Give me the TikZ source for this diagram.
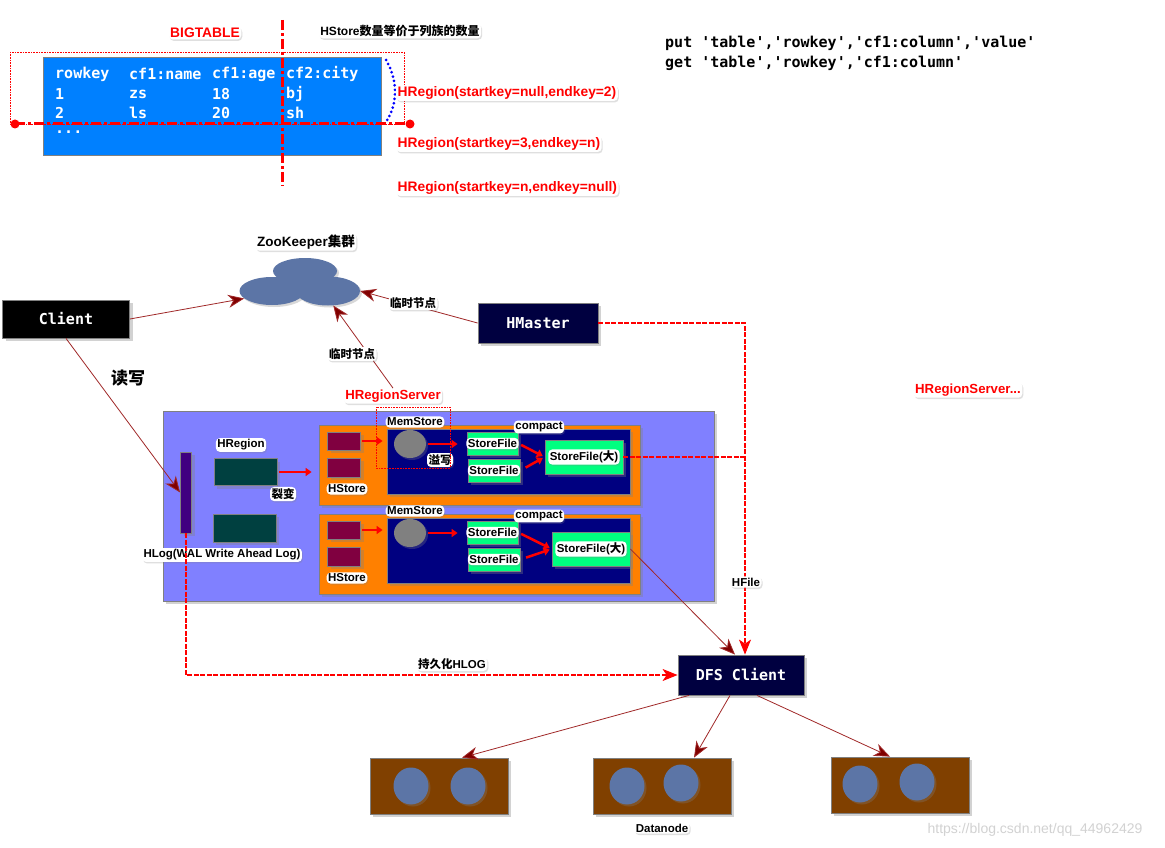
\documentclass[tikz,border=0pt]{standalone}
\usepackage{fontspec}
\setmainfont{Liberation Sans}
\setmonofont{DejaVu Sans Mono}
\newfontfamily\cjk{Noto Sans CJK SC}
\usetikzlibrary{positioning,shapes.geometric,arrows.meta,shadows}

\definecolor{tableblue}{RGB}{0,128,255}
\definecolor{zkblue}{RGB}{92,117,166}
\definecolor{hmnavy}{RGB}{0,0,64}
\definecolor{rsviolet}{RGB}{128,128,255}
\definecolor{hlogpurple}{RGB}{64,0,128}
\definecolor{regionteal}{RGB}{0,64,64}
\definecolor{storeorange}{RGB}{255,128,0}
\definecolor{blockmaroon}{RGB}{128,0,64}
\definecolor{memnavy}{RGB}{0,0,128}
\definecolor{filegreen}{RGB}{0,255,128}
\definecolor{dnbrown}{RGB}{128,64,0}
\definecolor{linkred}{RGB}{160,40,40}
\definecolor{tipred}{RGB}{128,0,0}

\newcommand{\zh}[1]{{\cjk #1}}
\newcommand{\fsz}[1]{\fontsize{#1}{#1}\selectfont}

\tikzset{
  boxed/.style={draw=gray, line width=0.8pt, inner sep=0pt,
    drop shadow={opacity=0.35, shadow xshift=3pt, shadow yshift=-3pt}},
  tag/.style={fill=white, rounded corners=4pt, inner sep=1.5pt, font=\bfseries\fsz{11.5},
    drop shadow={opacity=0.25, shadow xshift=1pt, shadow yshift=-1.5pt}},
  redtag/.style={tag, text=red, font=\bfseries\fsz{13.8}},
  monobox/.style={boxed, text=white, font=\ttfamily\bfseries\fsz{15}},
  cell/.style={anchor=west, inner sep=0pt, text=white, font=\ttfamily\bfseries\fsz{15}},
  blob/.style={ellipse, fill=zkblue, inner sep=0pt,
    drop shadow={opacity=0.3, shadow xshift=2pt, shadow yshift=-2pt}},
  filebox/.style={boxed, fill=filegreen},
  zklink/.style={linkred, line width=0.8pt, -{Stealth[length=16pt, width=13pt, inset=5pt, fill=tipred]}},
  hfile/.style={red, line width=1.2pt, dash pattern=on 5pt off 1.5pt},
  hfilearrow/.style={hfile, -{Stealth[length=15pt, width=12pt, inset=4pt]}},
  redblock/.style={red, line width=2.5pt, -{Triangle[length=6pt, width=8pt]}},
  cutline/.style={red, line width=3pt, dash pattern=on 10pt off 3pt on 3pt off 3pt}
}

\begin{document}
\begin{tikzpicture}[x=1pt, y=-1pt]
  \fill[white] (0,0) rectangle (1165,848);
  \useasboundingbox (0,0) rectangle (1165,848);

  % the big table
  \node[fill=tableblue, draw=gray, line width=0.8pt, minimum width=338pt, minimum height=98pt] (bigtable) at (212,106) {};
  \foreach \y/\ca/\cb/\cc/\cd [count=\r] in {74/rowkey/cf1:name/cf1:age/cf2:city, 94/1/zs/18/bj, 113/2/ls/20/sh}{
    \node[cell] (cell\r a) at (55,\y) {\ca};
    \node[cell] (cell\r b) at (129,\y) {\cb};
    \node[cell] (cell\r c) at (212,\y) {\cc};
    \node[cell] (cell\r d) at (286,\y) {\cd};
  }
  \node[cell] (cell4a) at (55,132) {...};

  % region split and column family cut
  \draw[red, line width=0.6pt, densely dotted] (10,52) rectangle (404,124);
  \coordinate (cutL) at (15,124);
  \coordinate (cutR) at (410,124);
  \coordinate (cutT) at (282,20);
  \coordinate (cutB) at (282,186);
  \draw[cutline] (cutL) -- (cutR);
  \draw[cutline] (cutT) -- (cutB);
  \fill[red] (cutL) circle (4.5pt) (cutR) circle (4.5pt);
  \draw[blue, line width=3pt, dash pattern=on 0pt off 4.5pt, line cap=round]
    (386,60) .. controls (398,80) and (398,104) .. (386,122);

  \node[redtag] (bigtag) at (205,33) {BIGTABLE};
  \node[tag, font=\bfseries\fsz{12}] (hstoretag) at (400,31) {HStore\zh{数量等价于列族的数量}};
  \node[redtag, anchor=west] (reg1) at (396,93) {HRegion(startkey=null,endkey=2)};
  \node[redtag, anchor=west] (reg2) at (396,144) {HRegion(startkey=3,endkey=n)};
  \node[redtag, anchor=west] (reg3) at (396,188) {HRegion(startkey=n,endkey=null)};

  % shell commands
  \node[anchor=west, inner sep=0pt, font=\ttfamily\bfseries\fsz{15}] (putcmd) at (665,43) {put 'table','rowkey','cf1:column','value'};
  \node[anchor=west, inner sep=0pt, font=\ttfamily\bfseries\fsz{15}] (getcmd) at (665,63) {get 'table','rowkey','cf1:column'};

  % zookeeper, client, master
  \node[tag, font=\bfseries\fsz{13.5}] (zktag) at (306,242) {ZooKeeper\zh{集群}};
  \node[blob, minimum width=64pt, minimum height=26pt] (zkt) at (305,271) {};
  \node[blob, minimum width=65pt, minimum height=28pt] (zkl) at (272,291) {};
  \node[blob, minimum width=64pt, minimum height=29pt] (zkr) at (328,291) {};
  \node[monobox, fill=black, minimum width=127pt, minimum height=38pt] (client) at (66,319) {Client};
  \node[monobox, fill=hmnavy, minimum width=120pt, minimum height=40pt] (hmaster) at (538,323) {HMaster};
  \node[font=\bfseries\fsz{17}] (rwtag) at (128,378) {\zh{读写}};

  % region server
  \node[boxed, fill=rsviolet, minimum width=551pt, minimum height=190pt] (hrs) at (438.5,506) {};
  \node[redtag, font=\bfseries\fsz{13.2}] (hrstag) at (393,396) {HRegionServer};
  \node[redtag, font=\bfseries\fsz{13.2}] (hrsmore) at (968,390) {HRegionServer...};
  \node[boxed, fill=hlogpurple, minimum width=11pt, minimum height=81pt] (hlog) at (186,492.5) {};
  \node[tag] (hlogtag) at (222,555) {HLog(WAL Write Ahead Log)};
  \node[tag] (regtag) at (241,445) {HRegion};
  \node[boxed, fill=regionteal, minimum width=63pt, minimum height=27pt] (region1) at (245.5,472) {};
  \node[boxed, fill=regionteal, minimum width=63pt, minimum height=28pt] (region2) at (244.5,528) {};

  \foreach \s/\dy/\bx/\by in {A/0/584/457, B/89/591/460}{
    \begin{scope}[shift={(0,\dy)}]
      \node[boxed, fill=storeorange, minimum width=321pt, minimum height=80pt] (store\s) at (479.5,465) {};
      \node[boxed, fill=blockmaroon, minimum width=33pt, minimum height=18pt] (cf\s a) at (344,441) {};
      \node[boxed, fill=blockmaroon, minimum width=33pt, minimum height=19pt] (cf\s b) at (344,467.5) {};
      \node[tag] (hs\s) at (347,489) {HStore};
      \node[boxed, fill=memnavy, minimum width=243pt, minimum height=65pt] (mem\s) at (508.5,461.5) {};
      \node[tag] (ms\s) at (415,422) {MemStore};
      \node[ellipse, fill=gray, inner sep=0pt, minimum width=32pt, minimum height=28pt,
        drop shadow={opacity=0.3, shadow xshift=2pt, shadow yshift=-2pt}] (disk\s) at (410,444) {};
      \node[filebox, minimum width=51pt, minimum height=23pt] (sf\s a) at (492.5,443.5) {};
      \node[filebox, minimum width=52pt, minimum height=23pt] (sf\s b) at (494,470.5) {};
      \node[filebox, minimum width=78pt, minimum height=34pt] (sf\s c) at (\bx,\by) {};
      \node[tag] at (sf\s a) {StoreFile};
      \node[tag] at (sf\s b) {StoreFile};
      \node[tag] at (sf\s c) {StoreFile(\zh{大})};
      \node[tag] (cp\s) at (539,427) {compact};
      \draw[redblock, shorten <=1pt, shorten >=4pt] (cf\s a.east) -- (cf\s a.east -| mem\s.west);
      \draw[redblock, shorten <=2pt, shorten >=9pt] (disk\s.east) -- (disk\s.east -| sf\s a.west);
      \draw[redblock, shorten <=3pt, shorten >=2pt] (sf\s a.east) -- (sf\s c.west);
      \draw[redblock, shorten <=6pt, shorten >=2pt] (sf\s b.east) -- (sf\s c.west);
    \end{scope}
  }
  \node[tag] (spilltag) at (440,460) {\zh{溢写}};
  \draw[redblock, shorten <=2pt, shorten >=7pt] (region1.east) -- (region1.east -| storeA.west);
  \node[tag] (splittag) at (283,494) {\zh{裂变}};
  \draw[red, line width=0.6pt, densely dotted] (376,407) rectangle (450,468);

  % hdfs side
  \node[monobox, fill=hmnavy, minimum width=126pt, minimum height=40pt] (dfs) at (741,675) {DFS Client};
  \foreach \n/\x/\y/\ax/\ay/\bx/\by in {1/439/786/411/786/468/786, 2/662/786/627/786/681/783, 3/900/785/860/784/917/782}{
    \node[boxed, fill=dnbrown, minimum width=138pt, minimum height=56pt] (dn\n) at (\x,\y) {};
    \node[blob, minimum width=35pt, minimum height=37pt] (dn\n a) at (\ax,\ay) {};
    \node[blob, minimum width=35pt, minimum height=37pt] (dn\n b) at (\bx,\by) {};
  }
  \node[tag] (dntag) at (662,828) {Datanode};

  % connectors
  \draw[zklink] (client.east) -- (zkl.195);
  \draw[zklink] (hmaster.west) -- (zkr.east);
  \node[tag] (tmp1) at (413,303) {\zh{临时节点}};
  \draw[zklink] (hrstag.north) -- (zkr.290);
  \node[tag] (tmp2) at (352,354) {\zh{临时节点}};
  \draw[zklink] (client.south) -- (hlog.west);

  \coordinate (dfsin) at ([xshift=4pt]dfs.north);
  \draw[hfilearrow] (hmaster.east) -| (dfsin);
  \draw[hfile] (sfAc.east) -- (sfAc.east -| dfsin);
  \node[tag] (hfiletag) at (746,582) {HFile};
  \draw[zklink] (sfBc.east) -- ([xshift=-6pt]dfs.north);
  \draw[hfilearrow] (hlog.south) |- (dfs.west);
  \node[tag] (persisttag) at (452,664) {\zh{持久化}HLOG};

  \draw[zklink] ([xshift=-52pt]dfs.south) -- ([xshift=23pt]dn1.north);
  \draw[zklink] ([xshift=-11pt]dfs.south) -- ([xshift=32pt]dn2.north);
  \draw[zklink] ([xshift=16pt]dfs.south) -- ([xshift=-10pt]dn3.north);

  \node[text=gray!35, font=\fsz{14}] (mark) at (1035,830) {https://blog.csdn.net/qq\_44962429};
\end{tikzpicture}
\end{document}
